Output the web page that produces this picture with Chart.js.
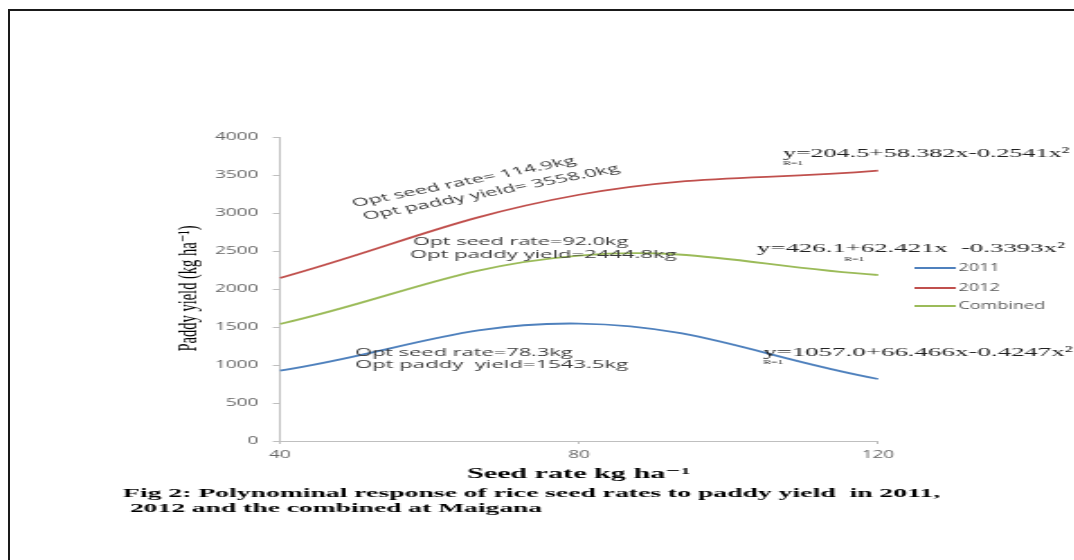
<!DOCTYPE html>
<html lang="en">
<head>
  <meta charset="UTF-8" />
  <title>Seed rate vs paddy yield</title>
  <script src="https://cdn.jsdelivr.net/npm/chart.js"></script>
  <style>
    html, body { margin: 0; padding: 0; background: white; overflow: hidden; }
    body { width: 1074px; height: 560px; position: relative; }
    #frame {
      position: absolute; left: 8px; top: 9px;
      width: 1200px; height: 700px;
      border: 2px solid #1a1a1a;
    }
    /* the source figure is a horizontally stretched picture, so draw narrow and stretch */
    #wrap {
      position: absolute; left: 0; top: 0;
      width: 597px; height: 560px;
      transform: scaleX(1.8); transform-origin: 0 0;
    }
  </style>
</head>
<body>
  <div id="frame"></div>
  <div id="wrap"><canvas id="yieldChart"></canvas></div>
  <script>
    const seedRates = ['40', '80', '120'];
    const yield2011 = [925, 1545, 816];
    const yield2012 = [2145, 3240, 3557];
    const yieldCombined = [1540, 2440, 2184];
    const seriesNames = ['2011', '2012', 'Combined'];
    const seriesColors = ['#4f81bd', '#c0504d', '#9bbb59'];

    const sans = '"Open Sans", sans-serif';
    const serif = '"Liberation Serif", "DejaVu Serif", serif';

    // draw text squeezed/stretched to a given width
    function fitText(ctx, t, x, y, w, angle) {
      const m = ctx.measureText(t).width;
      ctx.save();
      ctx.translate(x, y);
      if (angle) ctx.rotate(angle * Math.PI / 180);
      ctx.scale(w / m, 1);
      ctx.fillText(t, 0, 0);
      ctx.restore();
    }

    // legend, equations, notes and captions drawn on top of the chart
    const textPlugin = {
      id: 'textPlugin',
      afterDraw(chart) {
        const ctx = chart.ctx;
        ctx.save();

        // legend
        chart.data.datasets.forEach((ds, i) => {
          const y = [268, 288, 306][i];
          ctx.strokeStyle = ds.borderColor;
          ctx.lineWidth = 2;
          ctx.beginPath();
          ctx.moveTo(508, y);
          ctx.lineTo(531, y);
          ctx.stroke();
          ctx.fillStyle = '#595959';
          ctx.font = '10px ' + sans;
          ctx.textBaseline = 'middle';
          ctx.fillText(ds.label, 532.5, y + 0.5);
        });

        ctx.textBaseline = 'alphabetic';
        ctx.fillStyle = '#3a3a3a';
        ctx.font = '11px ' + sans;

        // optimum notes
        fitText(ctx, 'Opt seed rate= 114.9kg', 197, 207, 131, -19.5);
        fitText(ctx, 'Opt paddy yield= 3558.0kg', 203, 220, 150, -19);
        fitText(ctx, 'Opt seed rate=92.0kg', 229.4, 245, 119.5);
        fitText(ctx, 'Opt paddy yield=2444.8kg', 227.8, 258, 148);
        fitText(ctx, 'Opt seed rate=78.3kg', 197.2, 356, 121);
        fitText(ctx, 'Opt paddy  yield=1543.5kg', 197.2, 368, 151.7);

        // fitted equations
        ctx.fillStyle = '#222';
        ctx.font = '13.5px ' + serif;
        fitText(ctx, 'y=204.5+58.382x-0.2541x\u00b2', 435, 157, 159);
        fitText(ctx, 'y=426.1+62.421x  -0.3393x\u00b2', 420.6, 252, 171);
        fitText(ctx, 'y=1057.0+66.466x-0.4247x\u00b2', 424, 356, 172);
        ctx.font = '6.5px ' + serif;
        ctx.fillText('R=1', 435, 165);
        ctx.fillText('R=1', 469, 261);
        ctx.fillText('R=1', 424, 364);

        // axis titles
        ctx.fillStyle = '#000';
        ctx.font = '14.5px ' + serif;
        ctx.save();
        ctx.translate(109, 288.5);
        ctx.rotate(-Math.PI / 2);
        ctx.textAlign = 'center';
        ctx.fillText('Paddy yield (kg ha\u207b\u00b9)', 0, 0);
        ctx.restore();

        ctx.font = 'bold 14px ' + serif;
        fitText(ctx, 'Seed rate kg ha\u207b\u00b9', 259.4, 478, 124);

        // caption
        ctx.font = 'bold 13px ' + serif;
        fitText(ctx, 'Fig 2: Polynominal response of rice seed rates to paddy yield  in 2011,', 68.3, 497, 454);
        fitText(ctx, '2012 and the combined at Maigana', 72.2, 512, 229);

        ctx.restore();
      }
    };

    new Chart(document.getElementById('yieldChart'), {
      type: 'line',
      data: {
        labels: seedRates,
        datasets: [yield2011, yield2012, yieldCombined].map((d, i) => ({
          label: seriesNames[i],
          data: d,
          borderColor: seriesColors[i],
          backgroundColor: seriesColors[i],
          borderWidth: 1.8,
          pointRadius: 0,
          tension: 0.4,
          fill: false
        }))
      },
      options: {
        responsive: true,
        maintainAspectRatio: false,
        animation: false,
        devicePixelRatio: 1,
        layout: { padding: { left: 95.6, right: 109.2, top: 137, bottom: 89 } },
        plugins: {
          legend: { display: false },
          tooltip: { enabled: false }
        },
        scales: {
          x: {
            offset: false,
            grid: { drawOnChartArea: false, tickLength: 3, color: '#bfbfbf' },
            border: { color: '#bfbfbf', width: 1 },
            ticks: { color: '#666', font: { family: sans, size: 10.5 }, padding: 5, maxRotation: 0 },
            afterFit: s => { s.height = 30; }
          },
          y: {
            min: 0,
            max: 4000,
            ticks: {
              stepSize: 500,
              color: '#666',
              font: { family: sans, size: 10.5 },
              padding: 8,
              callback: v => String(v)
            },
            grid: { drawOnChartArea: false, tickLength: 4, color: '#bfbfbf' },
            border: { color: '#bfbfbf', width: 1 },
            afterFit: s => { s.width = 60; }
          }
        }
      },
      plugins: [textPlugin]
    });
  </script>
</body>
</html>
